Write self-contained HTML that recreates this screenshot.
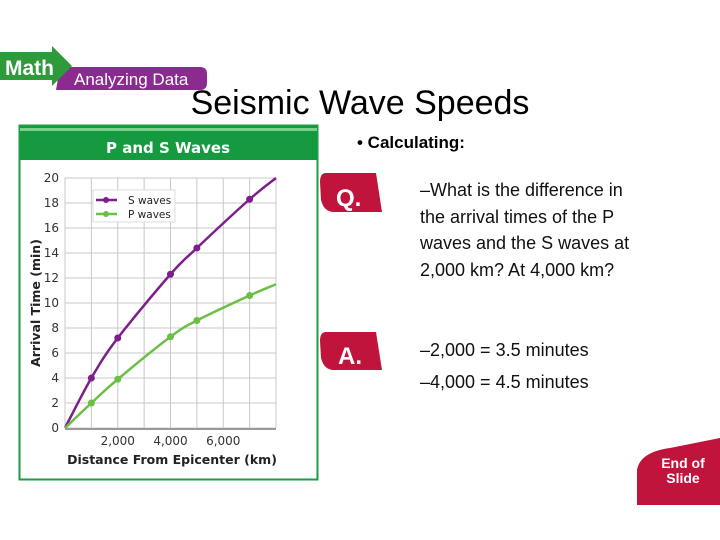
<!DOCTYPE html>
<html><head><meta charset="utf-8"><style>
body{margin:0;width:720px;height:540px;background:#fff;position:relative;overflow:hidden;font-family:"Liberation Sans",sans-serif}
.abs{position:absolute}
.t{font-size:18px;color:#111;line-height:26.5px}
</style></head><body>
<svg class="abs" style="left:0;top:0" width="720" height="540">
  <g>
    <path d="M60,67 H200 Q207,67 207,74 V83 Q207,90 200,90 H56 Z" fill="#8b2b8f"/>
    <path d="M0,52 H52 L52,46 L72,66 L52,86 L52,80 H0 Z" fill="#2e9b3a"/>
    <text x="5" y="75" font-size="21" font-weight="bold" fill="#fff" font-family="Liberation Sans">Math</text>
    <text x="74" y="85" font-size="17" fill="#fff" font-family="Liberation Sans">Analyzing Data</text>
  </g>
  <rect x="19.5" y="125.5" width="298" height="354" fill="#fff" stroke="#1e9b45" stroke-width="2"/>
  <rect x="20" y="126" width="297" height="34" fill="#169a40"/>
  <rect x="20" y="128" width="297" height="3" fill="#7ccf8c"/>
  <text x="168" y="153" text-anchor="middle" font-size="15" font-weight="bold" fill="#fff" font-family="DejaVu Sans">P and S Waves</text>
  <g id="plot"></g>
  <g>
    <path d="M326,173 H376 L382,212 H334 Q324,212 321,200 L320,182 Q320,173 326,173 Z" fill="#c0143c"/>
    <text x="336" y="206" font-size="24" font-weight="bold" fill="#fff" font-family="Liberation Sans">Q.</text>
  </g>
  <g>
    <path d="M326,332 H376 L382,370 H334 Q324,370 321,358 L320,341 Q320,332 326,332 Z" fill="#c0143c"/>
    <text x="338" y="364" font-size="24" font-weight="bold" fill="#fff" font-family="Liberation Sans">A.</text>
  </g>
  <g>
    <path d="M637,505 V470 Q640,452 670,448 L720,438 V505 Z" fill="#c0143c"/>
    <text x="683" y="468" text-anchor="middle" font-size="14" font-weight="bold" fill="#fff" font-family="Liberation Sans">End of</text>
    <text x="683" y="483" text-anchor="middle" font-size="14" font-weight="bold" fill="#fff" font-family="Liberation Sans">Slide</text>
  </g>
</svg>
<div class="abs" style="left:0;width:720px;top:84px;text-align:center;font-size:34px;color:#000">Seismic Wave Speeds</div>
<div class="abs" style="left:357px;top:133px;font-size:17px;font-weight:bold">• Calculating:</div>
<div class="abs t" style="left:420px;top:177px;width:300px">–What is the difference in<br>the arrival times of the P<br>waves and the S waves at<br>2,000 km? At 4,000 km?</div>
<div class="abs t" style="left:420px;top:334px;line-height:32px">–2,000 = 3.5 minutes<br>–4,000 = 4.5 minutes</div>
<script>
const xTicks=[2000,4000,6000];
const yTicks=[0,2,4,6,8,10,12,14,16,18,20];
const sX=[0,1000,2000,4000,5000,7000,8000];
const sY=[0,4,7.2,12.3,14.4,18.3,20];
const pX=[0,1000,2000,4000,5000,7000,8000];
const pY=[0,2,3.9,7.3,8.6,10.6,11.5];
const sMarkers=[1,2,3,4,5], pMarkers=[1,2,3,4,5];
const NS="http://www.w3.org/2000/svg";
const g=document.getElementById('plot');
const X=v=>65+v*(276-65)/8000, Y=v=>428-v*(428-178)/20;
function mk(t,a){const e=document.createElementNS(NS,t);for(const k in a)e.setAttribute(k,a[k]);g.appendChild(e);return e;}
for(let v=0;v<=8000;v+=1000){const l=mk('line',{x1:X(v),x2:X(v),y1:Y(20),y2:Y(0),stroke:'#c8c8c8','stroke-width':1});

}
yTicks.forEach(v=>{const l=mk('line',{x1:X(0),x2:X(8000),y1:Y(v),y2:Y(v),stroke:'#c8c8c8','stroke-width':1});


const t=mk('text',{x:X(0)-6,y:Y(v)+4,'text-anchor':'end','font-size':12,fill:'#333','font-family':'DejaVu Sans'});t.textContent=v;

});
const ax=mk('line',{x1:X(0),x2:X(8000),y1:Y(0)+1,y2:Y(0)+1,stroke:'#999','stroke-width':2});


xTicks.forEach(v=>{const t=mk('text',{x:X(v),y:445,'text-anchor':'middle','font-size':12,fill:'#333','font-family':'DejaVu Sans'});t.textContent=v.toLocaleString('en-US');

});
const xt=mk('text',{x:172,y:464,'text-anchor':'middle','font-size':12.5,'font-weight':'bold',fill:'#222','font-family':'DejaVu Sans'});xt.textContent='Distance From Epicenter (km)';


const yt=mk('text',{x:0,y:0,transform:'translate(40,303) rotate(-90)','text-anchor':'middle','font-size':12.5,'font-weight':'bold',fill:'#222','font-family':'DejaVu Sans'});yt.textContent='Arrival Time (min)';


function curve(xs,ys){let d='M'+X(xs[0])+','+Y(ys[0]);for(let i=0;i<xs.length-1;i++){const p0=i>0?i-1:i,p3=i+2<xs.length?i+2:i+1;
const x0=X(xs[p0]),y0=Y(ys[p0]),x1=X(xs[i]),y1=Y(ys[i]),x2=X(xs[i+1]),y2=Y(ys[i+1]),x3=X(xs[p3]),y3=Y(ys[p3]);
d+=` C${x1+(x2-x0)/6},${y1+(y2-y0)/6} ${x2-(x3-x1)/6},${y2-(y3-y1)/6} ${x2},${y2}`;}return d;}
[[sX,sY,sMarkers,'#7d1f8a','s-waves'],[pX,pY,pMarkers,'#6cbf45','p-waves']].forEach(([xs,ys,m,c,n])=>{
const p=mk('path',{d:curve(xs,ys),fill:'none',stroke:c,'stroke-width':2.5});


m.forEach(i=>{const ci=mk('circle',{cx:X(xs[i]),cy:Y(ys[i]),r:3.5,fill:c});

});});
const lb=mk('rect',{x:93,y:190,width:82,height:32,fill:'#fff',stroke:'#ddd'});


[['S waves','#7d1f8a',200],['P waves','#6cbf45',214]].forEach(([t,c,y])=>{
const l=mk('line',{x1:96,x2:117,y1:y,y2:y,stroke:c,'stroke-width':2.5});


const ci=mk('circle',{cx:106,cy:y,r:3,fill:c});


const tx=mk('text',{x:128,y:y+4,'font-size':10.5,fill:'#222','font-family':'DejaVu Sans'});tx.textContent=t;

});
</script>
</body></html>
